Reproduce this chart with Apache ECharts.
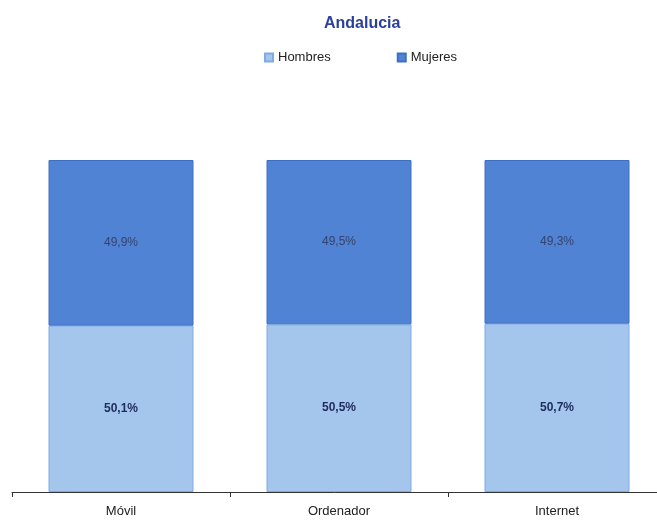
<!DOCTYPE html>
<html>
<head>
<meta charset="utf-8">
<script src="https://cdn.jsdelivr.net/npm/echarts@6/dist/echarts.min.js"></script>
<style>
  html, body { margin: 0; padding: 0; background: #fff; }
  #chart { width: 657px; height: 523px; }
</style>
</head>
<body>
<div id="chart"></div>
<script>
const categories = ['Móvil', 'Ordenador', 'Internet'];
const hombres = [50.1, 50.5, 50.7];
const mujeres = [49.9, 49.5, 49.3];

const pct = p => p.value.toFixed(1).replace('.', ',') + '%';

const chart = echarts.init(document.getElementById('chart'));

const option = {
  backgroundColor: '#ffffff',
  textStyle: { fontFamily: 'Liberation Sans, Arial, sans-serif' },
  title: {
    text: 'Andalucia',
    left: 319,
    top: 11,
    textStyle: { color: '#2b3f9e', fontSize: 16, fontWeight: 'bold' }
  },
  legend: {
    left: 259,
    top: 46,
    itemWidth: 8,
    itemHeight: 8,
    itemGap: 66,
    icon: 'rect',
    textStyle: { color: '#222', fontSize: 13 },
    data: ['Hombres', 'Mujeres']
  },
  grid: { left: 12, right: -9, top: 160, bottom: 31, outerBoundsMode: 'none', containLabel: false },
  xAxis: {
    type: 'category',
    data: categories,
    axisLine: { lineStyle: { color: '#333', width: 1 } },
    axisTick: { show: true, length: 5, lineStyle: { color: '#333' } },
    axisLabel: { color: '#222', fontSize: 13, margin: 13 }
  },
  yAxis: {
    type: 'value',
    min: 0,
    max: 100,
    show: false,
    splitLine: { show: false }
  },
  series: [
    {
      name: 'Hombres',
      type: 'bar',
      stack: 'total',
      data: hombres,
      barWidth: 145,
      itemStyle: { color: '#a4c5ec', borderColor: '#7faae2', borderWidth: 1 },
      label: {
        show: true,
        position: 'inside',
        formatter: pct,
        color: '#1e2b5c',
        fontSize: 12,
        fontWeight: 'bold'
      }
    },
    {
      name: 'Mujeres',
      type: 'bar',
      stack: 'total',
      data: mujeres,
      barWidth: 145,
      itemStyle: { color: '#5083d3', borderColor: '#3f6fc4', borderWidth: 1 },
      label: {
        show: true,
        position: 'inside',
        formatter: pct,
        color: '#35436e',
        fontSize: 12
      }
    }
  ]
};

chart.setOption(option);
</script>
</body>
</html>
